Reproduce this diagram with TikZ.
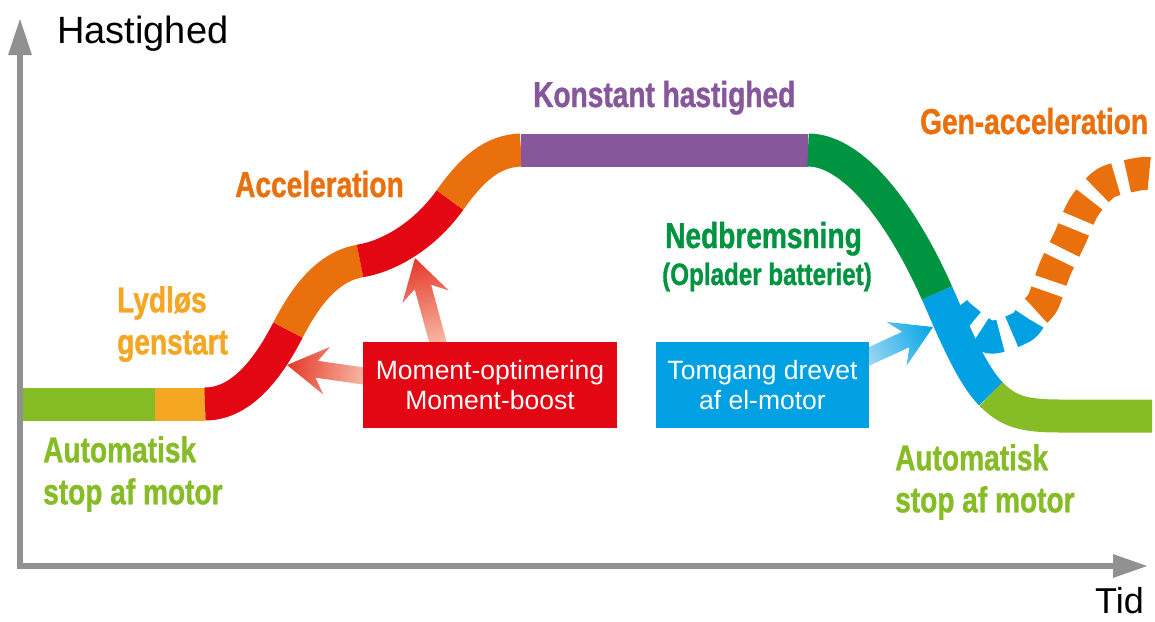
\documentclass[tikz,border=0pt]{standalone}
\usepackage{fontspec}
\setmainfont{Liberation Sans}
\newfontfamily\condbold{Liberation Sans Bold}[FakeStretch=0.78,FakeBold=1]
\usetikzlibrary{arrows.meta,backgrounds}
\definecolor{lgreen}{RGB}{134,188,37}
\definecolor{yorange}{RGB}{245,166,35}
\definecolor{dorange}{RGB}{234,112,13}
\definecolor{bred}{RGB}{227,6,19}
\definecolor{bpurple}{RGB}{135,87,155}
\definecolor{dgreen}{RGB}{0,148,64}
\definecolor{bcyan}{RGB}{0,160,227}
\definecolor{axgray}{RGB}{145,145,145}
\definecolor{redtip}{RGB}{230,55,40}
\definecolor{redtail}{RGB}{248,195,175}
\definecolor{cyantip}{RGB}{0,165,230}
\definecolor{cyantail}{RGB}{170,218,245}
\newdimen\arAx \newdimen\arAy \newdimen\arBx \newdimen\arBy
\newcommand\blockarrow[4]{%
  \pgfextractx{\arAx}{\pgfpointanchor{#1}{center}}%
  \pgfextracty{\arAy}{\pgfpointanchor{#1}{center}}%
  \pgfextractx{\arBx}{\pgfpointanchor{#2}{center}}%
  \pgfextracty{\arBy}{\pgfpointanchor{#2}{center}}%
  \pgfmathsetmacro\arang{atan2(\arBy-\arAy,\arBx-\arAx)}%
  \pgfmathsetmacro\arlen{veclen(\arBx-\arAx,\arBy-\arAy)}%
  \pgfmathsetmacro\arn{\arlen-30}%
  \pgfmathsetmacro\arh{\arlen-40}%
  \edef\arax{\the\arAx}\edef\aray{\the\arAy}%
  \begin{scope}[transform canvas={shift={(\arax,\aray)},rotate=\arang}]
    \shade[left color=#4, right color=#3]
      (0pt,-8.5pt) -- ({\arn pt},-8.5pt) -- ({\arh pt},-24pt) -- ({\arlen pt},0pt)
      -- ({\arh pt},24pt) -- ({\arn pt},8.5pt) -- (0pt,8.5pt) -- cycle;
  \end{scope}}
\begin{document}
\begin{tikzpicture}[x=1pt,y=-1pt,
  band/.style={line width=33pt},
  dashband/.style={line width=33pt, dash pattern=on 22pt off 12pt},
  lab/.style={font=\condbold\fontsize{36}{42}\selectfont, inner sep=0pt, align=left},
  boxlab/.style={font=\fontsize{26.5}{30}\selectfont, text=white, align=center,
                 minimum height=86pt, inner sep=0pt},
  axisline/.style={draw=axgray, line width=6pt}]
\useasboundingbox (0,0) rectangle (1155,621);
\begin{pgfonlayer}{background}
  \fill[white] (0,0) rectangle (1155,621);
\end{pgfonlayer}

% axes
\coordinate (ytip) at (20,18);
\coordinate (xtip) at (1148,566);
\draw[axisline, {Triangle[length=37pt,width=22pt]}-{Triangle[length=35pt,width=22pt]}] (ytip) |- (xtip);
\node[font=\fontsize{38}{44}\selectfont, inner sep=0pt, anchor=base west] (hast) at (57,43) {Hastighed};
\node[font=\fontsize{36}{42}\selectfont, inner sep=0pt, anchor=base west] (tid) at (1095,613) {Tid};

% dashed re-acceleration
\draw[dashband, bcyan] plot[smooth] coordinates {(954,310) (962,318) (990,337) (1022,327) (1032,314)};
\draw[dashband, dorange, dash phase=28.7pt] plot[smooth] coordinates {(1032,314) (1043,302) (1055,269) (1070,238) (1084,207) (1106,183) (1139,174) (1152,174)};

% main speed curve
\coordinate (b0) at (23,404);
\coordinate (b1) at (155,404);
\coordinate (b2) at (205,404);
\coordinate (b3) at (288,330);
\coordinate (b4) at (360,261);
\coordinate (b5) at (450,200);
\coordinate (b6) at (521,150);
\coordinate (b7) at (808,150);
\coordinate (b8) at (937,293);
\coordinate (b9) at (991,394);
\coordinate (b10) at (1152,416);
\draw[band, lgreen] (b0) -- (b1);
\draw[band, yorange] (b1) -- (b2);
\draw[band, bred] (b2) .. controls (243,404) and (270,365) .. (b3);
\draw[band, dorange] (b3) .. controls (303,301) and (325,267) .. (b4);
\draw[band, bred] (b4) .. controls (390,256) and (425,235) .. (b5);
\draw[band, dorange] (b5) .. controls (472,169) and (492,151) .. (b6);
\draw[band, bpurple] (b6) -- (b7);
\draw[band, dgreen] (b7) .. controls (852,150) and (900,210) .. (b8);
\draw[band, bcyan] (b8) .. controls (950,322) and (970,373) .. (b9);
\draw[band, lgreen] (b9) .. controls (1008,411) and (1022,416) .. (1060,416) -- (b10);

% labels
\node[lab, text=yorange, anchor=north west] (lyd) at (117,286) {Lydløs\\genstart};
\node[lab, text=dorange, anchor=base west] (acc) at (235,197) {Acceleration};
\node[lab, text=bpurple, anchor=base west] (kon) at (533,107) {Konstant hastighed};
\node[lab, text=dorange, anchor=base west] (gen) at (920,134) {Gen-acceleration};
\node[lab, text=dgreen, anchor=base west] (ned) at (665,248) {Nedbremsning};
\node[lab, text=dgreen, anchor=base west, font=\condbold\fontsize{31}{36}\selectfont] (opl) at (662,285) {(Oplader batteriet)};
\node[lab, text=lgreen, anchor=north west] (aut1) at (43,436) {Automatisk\\stop af motor};
\node[lab, text=lgreen, anchor=north west] (aut2) at (895,444) {Automatisk\\stop af motor};

% boxes
\node[boxlab, fill=bred, minimum width=254pt] (mo) at (490,385) {Moment-optimering\\Moment-boost};
\node[boxlab, fill=bcyan, minimum width=213pt] (tg) at (762.5,385) {Tomgang drevet\\af el-motor};

% arrows
\coordinate (tipL) at (287,365);
\coordinate (tipU) at (415,258);
\coordinate (tipB) at (933,327);
\coordinate (tailL) at ([xshift=8pt,yshift=8pt]mo.west);
\coordinate (tailU) at ([xshift=-50pt,yshift=-8pt]mo.north);
\coordinate (tailB) at ([xshift=-8pt,yshift=25pt]tg.east);
\begin{pgfonlayer}{background}
  \blockarrow{tailL}{tipL}{redtip}{redtail}
  \blockarrow{tailU}{tipU}{redtip}{redtail}
  \blockarrow{tailB}{tipB}{cyantip}{cyantail}
\end{pgfonlayer}
\end{tikzpicture}
\end{document}
